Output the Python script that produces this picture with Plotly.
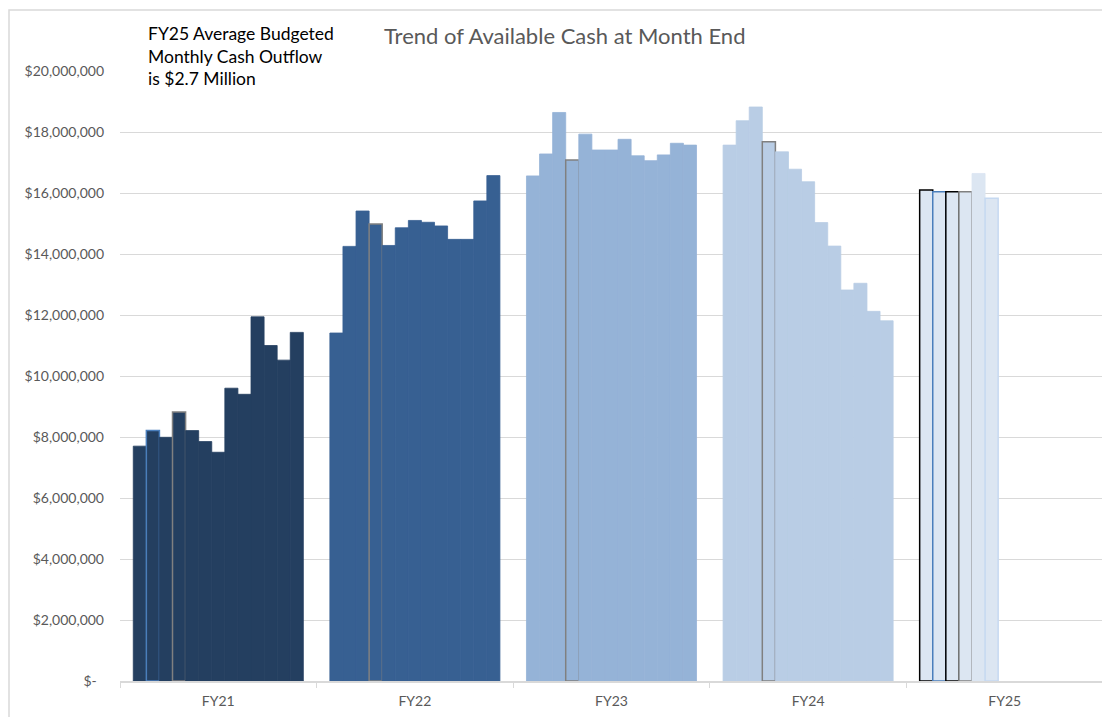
import plotly.graph_objects as go

# fiscal years on the x axis
years = ["FY21", "FY22", "FY23", "FY24", "FY25"]

# month-end available cash, one list per bar position within each year
m01 = [7700000, 11410000, 16560000, 17570000, 16100000]
m02 = [8210000, 14250000, 17280000, 18370000, 16040000]
m03 = [7990000, 15410000, 18640000, 18820000, 16040000]
m04 = [8820000, 14980000, 17080000, 17680000, 16040000]
m05 = [8210000, 14280000, 17930000, 17350000, 16640000]
m06 = [7850000, 14860000, 17410000, 16780000, 15830000]
m07 = [7500000, 15100000, 17410000, 16370000, None]
m08 = [9600000, 15040000, 17760000, 15030000, None]
m09 = [9400000, 14920000, 17220000, 14260000, None]
m10 = [11940000, 14480000, 17060000, 12820000, None]
m11 = [11000000, 14480000, 17250000, 13040000, None]
m12 = [10520000, 15740000, 17630000, 12120000, None]
m13 = [11430000, 16570000, 17570000, 11810000, None]
months = [m01, m02, m03, m04, m05, m06, m07, m08, m09, m10, m11, m12, m13]

y_ticks = [0, 2000000, 4000000, 6000000, 8000000, 10000000, 12000000,
           14000000, 16000000, 18000000, 20000000]
y_tick_text = ["$-\u00a0\u00a0", "$2,000,000", "$4,000,000", "$6,000,000",
               "$8,000,000", "$10,000,000", "$12,000,000", "$14,000,000",
               "$16,000,000", "$18,000,000", "$20,000,000"]

title = "Trend of Available Cash at Month End"
note = ["FY25 Average Budgeted", "Monthly Cash Outflow", "is $2.7 Million"]

# styling
year_colors = ["#243F60", "#376092", "#95B3D7", "#B9CDE5", "#DCE6F2"]
gray = "#808080"
blue = "#4A7EBB"
outlines = {  # (series index, year index) -> outline colour
    (1, 0): blue, (3, 0): gray, (3, 1): gray, (3, 2): gray, (3, 3): gray,
    (0, 4): "black", (1, 4): blue, (2, 4): "black", (3, 4): gray,
    (5, 4): "#C6D9F1",
}

fig = go.Figure()
for i, vals in enumerate(months):
    lc = [outlines.get((i, j), year_colors[j]) for j in range(len(years))]
    lw = [1.5 if (i, j) in outlines else 0.8 for j in range(len(years))]
    fig.add_trace(go.Bar(
        x=years, y=vals, name="M" + str(i + 1),
        marker=dict(color=year_colors, line=dict(color=lc, width=lw)),
    ))

# the page adds an 8px body margin, so the figure sits 8px right and down
W, H = 1102, 709
L, T, PW, PH = 112, 63, 983, 610
font = "Lato"
fig.update_layout(
    barmode="group", bargap=0.135, bargroupgap=0,
    width=W, height=H,
    margin=dict(l=L, r=W - L - PW, t=T, b=H - T - PH),
    paper_bgcolor="white", plot_bgcolor="white",
    showlegend=False,
    font=dict(family=font, color="#595959", size=14),
)
fig.update_yaxes(
    range=[0, 20000000], tickvals=y_ticks, ticktext=y_tick_text,
    showgrid=True, gridcolor="#D9D9D9", gridwidth=1,
    zeroline=False, showline=False, ticks="",
    ticklabelstandoff=15, tickfont=dict(size=14, color="#595959"),
)
fig.update_xaxes(
    showgrid=False, showline=True, linecolor="#D9D9D9", linewidth=1.5,
    ticks="outside", tickson="boundaries", ticklen=5, tickcolor="#D9D9D9",
    tickfont=dict(size=14, color="#595959"), ticklabelstandoff=6,
)


def px(xf):  # figure pixel -> paper x
    return (xf - L) / PW


def py(yf):  # figure pixel -> paper y
    return (T + PH - yf) / PH


# chart frame
fig.add_shape(type="rect", xref="paper", yref="paper",
              x0=px(1), x1=px(W + 20), y0=py(H + 20), y1=py(2),
              line=dict(color="#D9D9D9", width=1.5), layer="below")

fig.add_annotation(text=title, xref="paper", yref="paper",
                   x=px(556), y=py(27),
                   xanchor="center", yanchor="middle", showarrow=False,
                   font=dict(family=font, size=22, color="#595959"))
for k, line in enumerate(note):
    fig.add_annotation(text=line, xref="paper", yref="paper",
                       x=px(138), y=py(25 + 23 * k),
                       xanchor="left", yanchor="middle", showarrow=False,
                       font=dict(family=font, size=17.5, color="black"))

fig.write_html("out.html")
